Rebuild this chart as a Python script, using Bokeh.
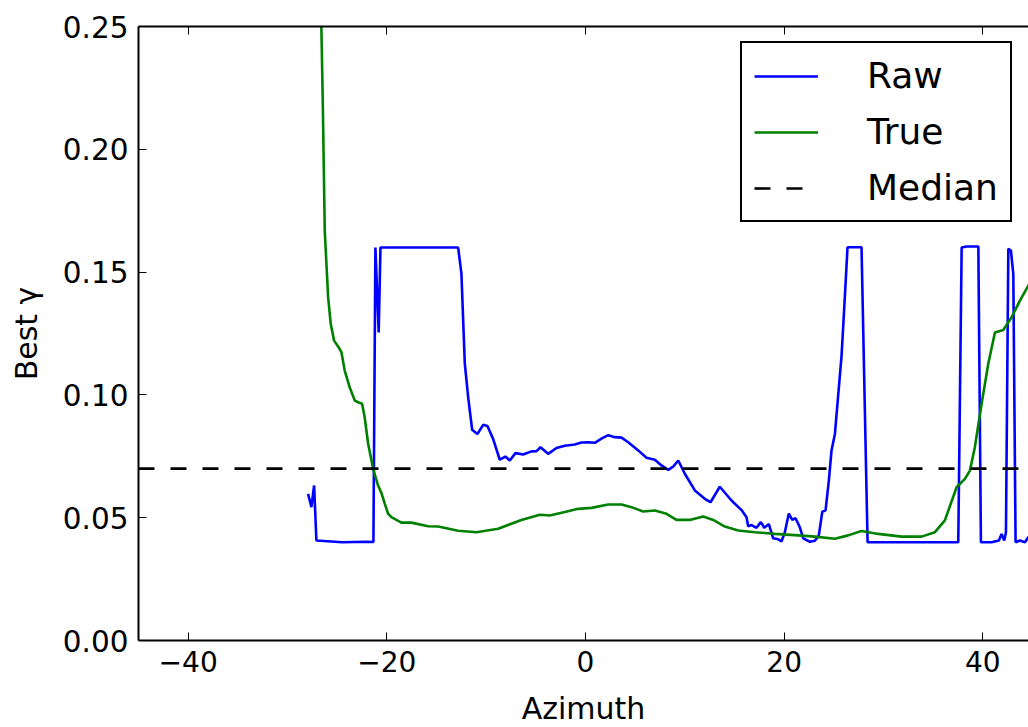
from bokeh.plotting import figure
from bokeh.models import (LinearAxis, FixedTicker, Legend, LegendItem, Range1d,
                          PrintfTickFormatter, CustomLabelingPolicy)
from bokeh.embed import file_html
from bokeh.resources import INLINE

# ---- data ----
raw_x = [-27.93, -27.59, -27.32, -27.09, -24.5, -22.0, -21.35, -21.15, -20.82, -20.64,
         -12.82, -12.49, -12.15, -11.98, -11.81, -11.41, -10.88, -10.30, -9.87, -9.30,
         -8.63, -8.06, -7.62, -7.05, -6.27, -5.44, -4.93, -4.53, -3.76, -2.92,
         -2.08, -1.08, -0.40, 0.27, 0.94, 1.61, 2.29, 2.95, 3.63, 4.30,
         5.31, 6.14, 6.98, 7.65, 8.33, 8.83, 9.34, 10.00, 11.01, 12.01,
         12.59, 13.52, 14.70, 15.71, 16.21, 16.38, 16.72, 17.22, 17.65, 18.00,
         18.46, 18.90, 19.41, 19.74, 20.07, 20.47, 20.82, 21.15, 21.58, 21.92,
         22.59, 23.09, 23.49, 23.84, 24.17, 24.50, 24.77, 25.11, 25.78, 26.11,
         26.38, 27.79, 28.40, 37.53, 37.87, 38.37, 39.55, 39.81, 40.89, 41.62,
         41.89, 42.16, 42.33, 42.57, 42.83, 43.07, 43.30, 43.74, 44.24, 44.58, 45.0]
raw_y = [0.0597, 0.0543, 0.0631, 0.0407, 0.0400, 0.0402, 0.0401, 0.1600, 0.1254, 0.1600,
         0.1600, 0.1494, 0.1127, 0.1059, 0.0990, 0.0858, 0.0841, 0.0878, 0.0873, 0.0821,
         0.0736, 0.0749, 0.0733, 0.0763, 0.0757, 0.0770, 0.0771, 0.0787, 0.0760, 0.0784,
         0.0793, 0.0798, 0.0806, 0.0807, 0.0805, 0.0822, 0.0836, 0.0828, 0.0826, 0.0807,
         0.0774, 0.0744, 0.0736, 0.0713, 0.0695, 0.0708, 0.0733, 0.0679, 0.0611, 0.0577,
         0.0563, 0.0626, 0.0570, 0.0531, 0.0502, 0.0465, 0.0470, 0.0459, 0.0482, 0.0459,
         0.0474, 0.0416, 0.0412, 0.0404, 0.0441, 0.0517, 0.0491, 0.0498, 0.0461, 0.0416,
         0.0402, 0.0406, 0.0428, 0.0524, 0.0530, 0.0651, 0.0774, 0.0841, 0.1160, 0.1398,
         0.1601, 0.1601, 0.0400, 0.0400, 0.1600, 0.1604, 0.1604, 0.0400, 0.0400, 0.0407,
         0.0434, 0.0407, 0.0441, 0.1595, 0.1588, 0.1493, 0.0400, 0.0407, 0.0400, 0.0421, 0.0418]

true_x = [-26.62, -26.45, -26.25, -26.08, -25.91, -25.65, -25.31, -24.90, -24.57, -24.24,
          -23.74, -23.23, -22.89, -22.49, -22.23, -21.88, -21.38, -20.88, -20.54, -20.21,
          -19.87, -19.54, -18.53, -17.52, -15.84, -14.83, -12.82, -10.98, -8.79, -6.45,
          -4.60, -3.60, -2.08, -0.74, 0.60, 2.29, 3.63, 4.63, 5.81, 6.98,
          8.16, 9.16, 10.50, 11.85, 12.86, 14.03, 15.38, 17.05, 19.06, 21.42,
          23.09, 25.11, 26.45, 27.79, 29.48, 31.82, 33.84, 35.18, 36.18, 37.36,
          38.20, 38.70, 39.20, 39.88, 40.55, 41.22, 42.06, 42.90, 43.74, 44.58, 45.0]
true_y = [0.2560, 0.2199, 0.1669, 0.1534, 0.1398, 0.1290, 0.1221, 0.1197, 0.1174, 0.1099,
          0.1031, 0.0977, 0.0970, 0.0964, 0.0909, 0.0801, 0.0699, 0.0631, 0.0600, 0.0557,
          0.0516, 0.0502, 0.0480, 0.0480, 0.0465, 0.0464, 0.0447, 0.0441, 0.0455, 0.0491,
          0.0512, 0.0509, 0.0523, 0.0536, 0.0540, 0.0554, 0.0554, 0.0543, 0.0525, 0.0529,
          0.0516, 0.0491, 0.0491, 0.0505, 0.0491, 0.0464, 0.0448, 0.0441, 0.0434, 0.0428,
          0.0423, 0.0414, 0.0428, 0.0446, 0.0434, 0.0423, 0.0423, 0.0441, 0.0489, 0.0624,
          0.0658, 0.0692, 0.0787, 0.0964, 0.1127, 0.1254, 0.1264, 0.1316, 0.1384, 0.1445, 0.1465]

median_x = [-45.0, 45.0]
median_y = [0.07, 0.07]

x_ticks = [-40, -20, 0, 20, 40]
x_tick_labels = ["\u221240", "\u221220", "0", "20", "40"]
y_ticks = [0.0, 0.05, 0.10, 0.15, 0.20, 0.25]

FONT = "DejaVu Sans"

p = figure(width=1028, height=727, frame_width=890, frame_height=614,
           x_range=Range1d(-45, 44.6), y_range=Range1d(0, 0.25),
           output_backend="svg", toolbar_location=None,
           min_border_left=138, min_border_right=0, min_border_top=26, min_border_bottom=87)
p.outline_line_color = None
p.xgrid.visible = False
p.ygrid.visible = False
p.background_fill_color = "white"
p.border_fill_color = "white"

r_raw = p.line(raw_x, raw_y, line_color="#0000ff", line_width=2.6)
r_true = p.line(true_x, true_y, line_color="#008000", line_width=2.6)
r_med = p.line(median_x, median_y, line_color="black", line_width=2.6, line_dash="16 16")

for ax in [p.xaxis[0], p.yaxis[0]]:
    ax.axis_line_color = "black"
    ax.axis_line_width = 2
    ax.major_tick_in = 8
    ax.major_tick_out = 0
    ax.major_tick_line_color = "black"
    ax.major_tick_line_width = 1
    ax.minor_tick_line_color = None
    ax.major_label_text_font = FONT
    ax.major_label_text_color = "black"
    ax.axis_label_text_font = FONT
    ax.axis_label_text_font_size = "30px"
    ax.axis_label_text_font_style = "normal"
    ax.axis_label_text_color = "black"
    ax.major_label_standoff = 10

p.xaxis[0].major_label_text_font_size = "28px"
p.yaxis[0].major_label_text_font_size = "29.5px"

p.xaxis[0].ticker = FixedTicker(ticks=x_ticks)
p.xaxis[0].major_label_overrides = dict(zip(x_ticks, x_tick_labels))
p.xaxis[0].axis_label = "Azimuth"
p.xaxis[0].axis_label_standoff = 16
p.yaxis[0].ticker = FixedTicker(ticks=y_ticks)
p.yaxis[0].formatter = PrintfTickFormatter(format="%.2f")
p.yaxis[0].axis_label = "Best \u03b3"
p.yaxis[0].axis_label_standoff = 16

top = LinearAxis(ticker=FixedTicker(ticks=x_ticks),
                 major_label_policy=CustomLabelingPolicy(code="return new Set()"),
                 major_label_standoff=0, major_tick_in=8, major_tick_out=0,
                 axis_line_width=2, axis_line_color="black", minor_tick_line_color=None)
p.add_layout(top, "above")

legend = Legend(items=[LegendItem(label="Raw", renderers=[r_raw]),
                       LegendItem(label="True", renderers=[r_true]),
                       LegendItem(label="Median", renderers=[r_med])],
                location=(602, 418))
legend.label_text_font = FONT
legend.label_text_font_size = "36px"
legend.label_text_color = "black"
legend.border_line_color = "black"
legend.border_line_alpha = 1
legend.border_line_width = 2
legend.background_fill_color = "white"
legend.background_fill_alpha = 1
legend.padding = 12
legend.spacing = 15
legend.glyph_width = 64
legend.glyph_height = 40
legend.label_height = 40
legend.label_standoff = 49
legend.margin = 0
p.add_layout(legend)

open("out.html", "w").write(file_html(p, INLINE))
